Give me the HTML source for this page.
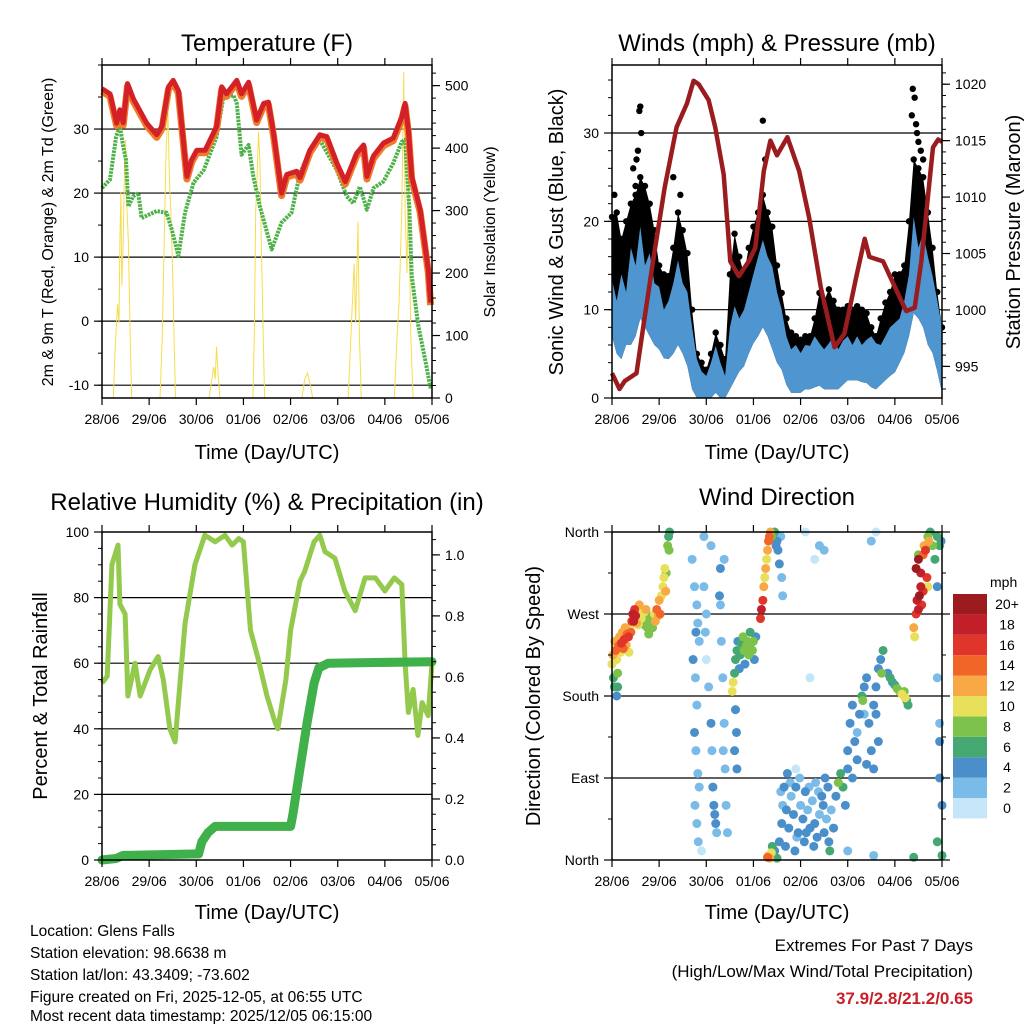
<!DOCTYPE html>
<html><head><meta charset="utf-8">
<style>
html,body{margin:0;padding:0;background:#fff;}
svg{display:block;font-family:"Liberation Sans",Arial,sans-serif;}
</style></head>
<body>
<svg id="chart" width="1024" height="1024" viewBox="0 0 1024 1024" xmlns="http://www.w3.org/2000/svg">
<rect x="0" y="0" width="1024" height="1024" fill="#fff"/>
<g id="layer"></g>
<g font-size="24" text-anchor="middle" fill="#000">
<text x="267" y="51">Temperature (F)</text>
<text x="777" y="51">Winds (mph) &amp; Pressure (mb)</text>
<text x="267" y="510">Relative Humidity (%) &amp; Precipitation (in)</text>
<text x="777" y="505">Wind Direction</text>
</g>
<g font-size="20" text-anchor="middle" fill="#000">
<text x="267" y="459">Time (Day/UTC)</text>
<text x="777" y="459">Time (Day/UTC)</text>
<text x="267" y="919">Time (Day/UTC)</text>
<text x="777" y="919">Time (Day/UTC)</text>
<text transform="translate(53,232) rotate(-90)" font-size="16">2m &amp; 9m T (Red, Orange) &amp; 2m Td (Green)</text>
<text transform="translate(495,232) rotate(-90)" font-size="16">Solar Insolation (Yellow)</text>
<text transform="translate(563,232) rotate(-90)">Sonic Wind &amp; Gust (Blue, Black)</text>
<text transform="translate(1020,232) rotate(-90)">Station Pressure (Maroon)</text>
<text transform="translate(47,696) rotate(-90)">Percent &amp; Total Rainfall</text>
<text transform="translate(540,696) rotate(-90)">Direction (Colored By Speed)</text>
</g>
<g font-size="15.5" fill="#000">
<text x="30" y="936">Location: Glens Falls</text>
<text x="30" y="958">Station elevation: 98.6638 m</text>
<text x="30" y="980">Station lat/lon: 43.3409; -73.602</text>
<text x="30" y="1002">Figure created on Fri, 2025-12-05, at 06:55 UTC</text>
<text x="30" y="1021">Most recent data timestamp: 2025/12/05 06:15:00</text>
</g>
<g font-size="17" fill="#000" text-anchor="end">
<text x="973" y="951">Extremes For Past 7 Days</text>
<text x="973" y="977">(High/Low/Max Wind/Total Precipitation)</text>
<text x="973" y="1004" font-weight="bold" fill="#c8202a">37.9/2.8/21.2/0.65</text>
</g>
</svg>
<script>
const dayLabels=["28/06","29/06","30/06","01/06","02/06","03/06","04/06","05/06"];
const tempTicks=[-10,0,10,20,30];
const solarTicks=[0,100,200,300,400,500];
const windTicks=[0,10,20,30];
const presTicks=[995,1000,1005,1010,1015,1020];
const rhTicks=[0,20,40,60,80,100];
const rainTicks=[0.0,0.2,0.4,0.6,0.8,1.0];
const dirTicks=[0,90,180,270,360];
const dirLabels=["North","East","South","West","North"];

const tempDays=[0,.17,.31,.38,.45,.54,.66,.95,1.16,1.27,1.41,1.51,1.62,1.73,1.8,1.9,2.01,2.19,2.43,2.54,2.64,2.86,2.96,3.11,3.28,3.43,3.53,3.64,3.81,3.92,4.13,4.2,4.41,4.62,4.77,4.98,5.16,5.4,5.55,5.62,5.76,5.97,6.18,6.36,6.43,6.5,6.57,6.75,6.92,6.97];
const tempVals=[36.3,35.5,30.9,33,31,37.1,34.8,30.9,29.1,30.4,36.6,37.6,36,27.8,22.6,25.2,26.7,26.7,30.4,36.6,35.5,37.6,35.5,37.3,31.4,34,34.2,29.3,20,22.9,23.4,22.4,26.7,29.1,28.8,24.7,21.8,26.2,27.5,22.6,25.8,27.8,28.6,31.9,34,29.8,22.6,17.4,8.1,2.9];
const dewDays=[0,.17,.3,.38,.45,.51,.56,.66,.77,.84,1.16,1.37,1.48,1.62,1.76,1.94,2.16,2.43,2.57,2.79,2.86,2.96,3.11,3.21,3.35,3.6,3.81,4.02,4.2,4.41,4.62,4.98,5.19,5.33,5.47,5.62,5.76,5.97,6.18,6.36,6.43,6.52,6.57,6.71,6.85,6.97];
const dewVals=[20.8,22.1,28.8,30.4,27.3,25.2,17.9,19.5,20,16.1,17.2,16.9,14.3,10.2,16.9,21.6,23.6,28.8,34.8,35.3,34,26,27.5,22.6,17.9,11.2,15.4,16.9,23.1,26.7,28.3,23.6,19.5,18.4,21,17.4,20.8,21.8,24.7,28,28.3,17.4,7.1,-0.7,-5.8,-10.5];
const solarDays=[0,.24,.28,.33,.36,.38,.40,.42,.45,.48,.50,.52,.56,.6,.63,1.23,1.28,1.32,1.36,1.4,1.43,1.46,1.5,1.52,1.56,2.27,2.33,2.37,2.4,2.43,2.46,2.5,3.2,3.23,3.26,3.28,3.32,3.35,3.38,3.42,3.45,4.24,4.3,4.36,4.42,4.47,5.22,5.27,5.31,5.35,5.38,5.43,5.46,5.5,6.2,6.26,6.3,6.36,6.4,6.43,6.47,6.5,6.55,6.6,7];
const solarVals=[0,0,80,150,120,250,330,180,250,380,413,320,250,90,0,0,100,250,400,458,350,300,200,120,0,0,30,50,30,82,40,0,0,100,300,330,426,380,250,100,0,0,30,40,20,0,0,80,150,215,120,282,100,0,0,100,150,300,522,300,200,350,100,0,0];

const presDays=[0,.16,.27,.52,.66,.87,1.12,1.37,1.59,1.73,1.84,2.05,2.19,2.37,2.51,2.69,2.9,3.04,3.22,3.36,3.5,3.72,3.97,4.18,4.43,4.72,4.93,5.18,5.36,5.46,5.75,5.96,6.24,6.42,6.56,6.81,6.92,7];
const presVals=[994.4,993,993.7,994.4,998.4,1004.3,1010.9,1016.2,1018.3,1020.3,1020,1018.6,1016.2,1012,1004.3,1003,1004.3,1005.5,1012.3,1015,1013.7,1015.3,1012.3,1008.2,1002,996.7,997.9,1002.9,1006.3,1004.7,1004.3,1002.4,999.9,1000.2,1004.3,1014.4,1015.1,1014.9];
const windDays=[0,.1,.2,.3,.4,.5,.6,.7,.8,.9,1,1.1,1.2,1.3,1.4,1.5,1.6,1.7,1.8,1.9,2,2.1,2.2,2.3,2.4,2.5,2.6,2.7,2.8,2.9,3,3.1,3.2,3.3,3.4,3.5,3.6,3.7,3.8,3.9,4,4.1,4.2,4.3,4.4,4.5,4.6,4.7,4.8,4.9,5,5.1,5.2,5.3,5.4,5.5,5.6,5.7,5.8,5.9,6,6.1,6.2,6.3,6.4,6.5,6.6,6.7,6.8,6.9,7];
const windHi=[13.4,11,14,12,17,15,19.4,15,16.4,13,12.6,10,11,13,15.6,13,12,8,4.4,3,2.5,4,5.9,4,2.5,8,10.4,9,10,12,14,16,17.9,16,14.9,12,10,7,5.5,6,5.1,6,5.9,7,6.2,5.5,6.2,7,5.5,6.5,7,6,7,6,6.6,7,6.2,6,7,8,8.5,9,11,14,20.5,17,18.6,16,13.8,11,8];
const windLo=[7,5,4.4,6,6,7,9,8,7,6,5.5,4.5,4.4,5,6,5,3.6,1,0,0,0,0,.6,0,0,1,2,3,3.6,5,6.2,7,8,7,5.5,4,3.2,1.5,.6,.6,.6,1,1,1.2,1.4,1,1,1,1,1.5,2,2,2,1.8,1.7,1.2,1,1.5,2,2.5,2.9,4,5.1,7,9.6,9,8,6,5.1,3,.6];
const gustHi=[20.5,21,18,20,22,23,25,24,22,19,15,14,13.8,17,21,19,16.4,10,5,4,3.2,5,7.4,6,4.4,14,18.6,16,14,17,19.4,21,23,21,19.4,15,11.9,9,7.4,7,6.6,7,7,9,11.9,11,12.3,11,10,10,10.4,10,10.4,10,9.6,8,7,9,10.8,12,14,14,15,20,27,26,25,21,17,12,8];
const gustOutDays=[.45,.55,.58,.6,.62,.5,.52,3.2,3.25,1.3,6.36,6.38,6.42,6.45,6.47,6.5,6.55,6.6,.05,1.45];
const gustOutVals=[26,28,32.5,33,30,24,27,31.4,27,25,32,35,34,31,30,29,28,27,23,23];

const rhDays=[0,.11,.21,.34,.38,.49,.55,.7,.81,1.02,1.19,1.3,1.44,1.55,1.66,1.76,1.97,2.18,2.4,2.61,2.76,2.9,3.0,3.15,3.3,3.5,3.67,3.73,3.9,4.0,4.2,4.3,4.5,4.62,4.73,4.94,5.15,5.37,5.58,5.8,6.0,6.2,6.36,6.43,6.5,6.6,6.7,6.79,6.92,7];
const rhVals=[54,56,90,96,78,75,50,60,50,58,62,55,40,36,55,72,90,99,97,99,96,98,97,70,62,50,42,40,55,70,85,88,97,99,94,92,82,76,86,86,82,86,84,60,45,52,38,48,44,60];
const rainDays=[0,.3,.45,2.05,2.12,2.25,2.4,4.0,4.05,4.2,4.35,4.5,4.6,4.8,7];
const rainVals=[0,.005,.015,.02,.06,.09,.11,.11,.15,.3,.45,.58,.63,.645,.65];

const dirDays=[0,.02,.03,.05,.06,.08,.1,.12,.14,.16,.18,.2,.22,.24,.26,.28,.3,.32,.35,.36,.38,.4,.42,.44,.46,.48,.5,.52,.54,.56,.58,.6,.62,.64,.66,.68,.7,.72,.75,.78,.8,.82,.84,.86,.9,.92,.95,.98,1,1.02,1.05,1.08,1.1,1.12,1.14,1.18,1.2,1.21,1.22,1.15,.1,.12,
1.7,1.75,1.8,1.78,1.82,1.85,1.72,1.77,1.8,1.75,1.78,1.82,1.85,1.76,1.8,1.83,1.9,1.95,2,1.98,2,2.05,2.1,2.12,2.14,2.16,2.18,2.2,2.22,2.1,1.95,2.3,2.28,2.3,2.32,2.35,2.38,2.36,2.4,2.42,2.45,2.38,
2.55,2.57,2.6,2.62,2.65,2.67,2.7,2.72,2.75,2.78,2.8,2.82,2.85,2.88,2.9,2.93,2.95,2.98,3,3.02,3.05,2.62,2.64,2.6,2.65,
3.15,3.17,3.2,3.22,3.24,3.26,3.28,3.3,3.32,3.34,3.36,3.38,3.42,3.45,3.5,3.52,3.55,3.6,3.62,3.48,3.58,3.3,3.32,3.35,3.38,3.4,3.42,3.45,3.5,
3.55,3.6,3.62,3.65,3.7,3.75,3.8,3.85,3.9,3.95,4,4.05,4.1,4.15,4.2,4.25,4.3,4.35,4.4,4.45,4.5,4.55,4.6,4.62,4.65,4.7,4.75,4.8,4.85,4.9,4.95,5,3.58,3.68,3.78,3.88,3.98,4.08,4.18,4.28,4.38,4.48,4.58,3.72,3.92,4.12,4.32,4.52,
5,5.05,5.1,5.15,5.2,5.25,5.3,5.32,5.35,5.4,5.45,5.5,5.55,5.6,5.65,5.7,5.72,5.75,5.1,5.2,5.4,5.55,5.35,5.6,5.65,
5.85,5.9,5.95,6,6.05,6.1,6.15,6.2,6.22,6.25,6.28,
6.4,6.42,6.45,6.47,6.5,6.52,6.55,6.57,6.6,6.45,6.5,6.55,6.6,6.62,6.65,6.68,6.7,6.72,6.75,6.7,6.8,6.85,6.9,6.95,6.98,6.5,6.9,
6.4,6.9,6.95,7,6.95,6.9,7,6.95,4.1,4.5,5.5,4.2,3.9,5,5.6,5.55,4.3,4.4];
const dirVals=[215,225,200,190,240,230,220,205,235,245,228,238,250,232,242,255,236,248,245,228,255,250,262,270,262,275,268,260,270,258,280,275,265,268,262,272,258,275,255,248,268,260,264,255,270,262,275,268,285,270,290,300,310,320,295,345,355,340,360,315,180,190,
330,300,280,250,260,240,220,200,170,140,120,95,80,60,40,20,10,300,270,250,220,190,150,120,80,60,50,40,30,345,355,320,290,280,240,200,150,120,100,60,30,330,
185,195,205,220,230,240,210,225,238,245,230,215,235,240,225,250,238,230,240,220,245,165,140,120,100,
265,275,285,300,310,320,330,340,350,355,360,355,358,360,350,340,325,310,290,345,355,3,5,2,8,15,4,10,2,
20,40,60,80,55,35,70,50,80,30,60,45,75,55,35,65,40,25,50,70,30,45,20,10,55,35,70,85,95,80,60,100,75,15,85,10,90,20,80,15,75,60,80,95,25,30,85,90,
120,150,170,130,110,160,180,175,190,200,150,120,170,190,210,220,205,230,90,140,105,100,160,160,130,
205,200,195,192,188,185,182,185,178,175,170,
255,245,270,285,275,290,300,280,295,320,330,315,335,345,340,310,355,350,360,300,345,330,355,345,350,335,300,
3,20,90,5,130,200,60,150,360,340,350,200,100,10,360,5,330,345];
const dirSpeeds=[9,11,6,5,12,13,10,7,14,12,9,15,11,13,16,12,11,13,15,10,9,14,15,17,18,16,17,11,10,9,12,10,9,8,7,10,6,11,7,7,8,7,6,7,10,12,13,12,12,13,10,9,10,9,11,7,6,7,6,8,4,5,
1,1,2,3,1,1,3,2,1,3,1,2,1,2,1,1,0,1,2,1,0,2,3,2,3,4,4,3,2,1,1,3,4,2,1,1,2,1,1,1,1,1,
9,10,6,6,5,4,4,5,6,7,8,4,7,8,7,5,7,8,7,4,4,4,4,4,3,
16,17,15,11,10,12,9,11,13,14,12,8,6,5,4,3,3,1,1,4,2,14,10,12,9,6,5,4,5,
3,4,2,3,4,3,2,4,3,4,2,3,4,2,3,2,3,4,2,3,4,2,3,6,2,3,4,7,6,5,4,3,2,4,2,3,2,3,2,3,2,4,3,3,2,3,2,4,
4,3,4,4,3,4,6,7,4,3,4,3,4,4,3,4,7,5,3,2,4,3,2,4,3,
4,5,4,6,7,8,10,7,9,6,5,
11,10,15,17,18,20,18,16,15,20,19,18,14,12,15,15,8,12,6,10,8,6,5,6,3,7,4,
6,6,4,5,3,2,3,1,0,1,1,0,0,1,0,1,0,1];

const speedColors=["#c5e6f8","#7bbbe8","#4a8fc9","#45a872","#7dc24a","#e8e05a","#f9a846","#f26529","#e0352b","#c1202a","#9b1b1e"];
const speedLabels=["0","2","4","6","8","10","12","14","16","18","20+"];

const NS="http://www.w3.org/2000/svg";
const layer=document.getElementById('layer');
function mk(tag,attrs,parent){const e=document.createElementNS(NS,tag);for(const k in attrs)e.setAttribute(k,attrs[k]);(parent||layer).appendChild(e);return e;}
function lin(d0,d1,r0,r1){return v=>r0+(v-d0)/(d1-d0)*(r1-r0);}

const P=[
 {x0:102,x1:432,y0:65,y1:398},
 {x0:612,x1:942,y0:65,y1:398},
 {x0:102,x1:432,y0:532,y1:860},
 {x0:612,x1:942,y0:532,y1:860}];
const X=P.map(p=>lin(0,7,p.x0,p.x1));
const yT=lin(-12,40,398,65), yS=lin(0,533,398,65);
const yW=lin(0,37.7,398,65), yP=lin(992.2,1021.7,398,65);
const yRH=lin(0,100,860,532), yRain=lin(0,1.075,860,532);
const yD=lin(0,360,860,532);

function pts(xs,ys,fx,fy){return xs.map((d,i)=>fx(d).toFixed(1)+","+fy(ys[i]).toFixed(1)).join(" ");}

function grid(pi,vals,fy,name){vals.forEach(v=>{const y=fy(v);if(y<=P[pi].y0+1||y>=P[pi].y1-1)return;
 const l=mk('line',{x1:P[pi].x0,x2:P[pi].x1,y1:y,y2:y,stroke:'#000','stroke-width':1.2});
 
 });}
grid(0,tempTicks,yT,'temp');grid(1,windTicks,yW,'wind');grid(2,rhTicks,yRH,'rh');grid(3,dirTicks,yD,'dir');

let g;
g=mk('polyline',{points:pts(solarDays,solarVals,X[0],yS),fill:'none',stroke:'#f7dc4f','stroke-width':1});


g=mk('polyline',{points:pts(dewDays,dewVals,X[0],yT),fill:'none',stroke:'#4cb147','stroke-width':4,'stroke-dasharray':'2.5 1','stroke-linejoin':'round'});


g=mk('polyline',{points:pts(tempDays,tempVals.map(v=>v-0.4),X[0],yT),fill:'none',stroke:'#f07a2a','stroke-width':7,'stroke-linejoin':'round'});


g=mk('polyline',{points:pts(tempDays,tempVals,X[0],yT),fill:'none',stroke:'#d42027','stroke-width':5,'stroke-linejoin':'round'});



g=mk('polygon',{points:pts(windDays,gustHi,X[1],yW)+" "+pts(windDays.slice().reverse(),windLo.slice().reverse(),X[1],yW),fill:'#000'});


windDays.forEach((d,i)=>{const c=mk('circle',{cx:X[1](d),cy:yW(gustHi[i]),r:3.2,fill:'#000'});
 
 });
gustOutDays.forEach((d,i)=>{const c=mk('circle',{cx:X[1](d),cy:yW(gustOutVals[i]),r:3.2,fill:'#000'});
 
 });
g=mk('polygon',{points:pts(windDays,windHi,X[1],yW)+" "+pts(windDays.slice().reverse(),windLo.slice().reverse(),X[1],yW),fill:'#4f96d1'});


g=mk('polyline',{points:pts(presDays,presVals,X[1],yP),fill:'none',stroke:'#9b1c1f','stroke-width':4.5,'stroke-linejoin':'round'});



g=mk('polyline',{points:pts(rhDays,rhVals,X[2],yRH),fill:'none',stroke:'#93c94d','stroke-width':5,'stroke-linejoin':'round'});


g=mk('polyline',{points:pts(rainDays,rainVals,X[2],yRain),fill:'none',stroke:'#40b04a','stroke-width':9,'stroke-linejoin':'round','stroke-linecap':'round'});



const order=dirDays.map((d,i)=>i).sort((a,b)=>dirSpeeds[a]-dirSpeeds[b]);
order.forEach(i=>{const ci=Math.min(10,Math.round(dirSpeeds[i]/2));
 const c=mk('circle',{cx:X[3](dirDays[i]),cy:yD(dirVals[i]),r:4.5,fill:speedColors[ci]});
 
 });

P.forEach((p,pi)=>{
 const r=mk('rect',{x:p.x0,y:p.y0,width:p.x1-p.x0,height:p.y1-p.y0,fill:'none',stroke:'#000','stroke-width':1.5});
 
 
 dayLabels.forEach((lab,i)=>{const x=X[pi](i);
  const t1=mk('line',{x1:x,x2:x,y1:p.y0,y2:p.y0-7,stroke:'#000','stroke-width':1.2});
  
  
  const t2=mk('line',{x1:x,x2:x,y1:p.y1,y2:p.y1+7,stroke:'#000','stroke-width':1.2});
  
  
  const tx=mk('text',{x:x,y:p.y1+26,'font-size':14,'text-anchor':'middle'});tx.textContent=lab;
  
  });
});
function yAxis(pi,side,vals,labels,fy,minorStep,minorFrom,minorTo,name){
 const p=P[pi];const x=side==='l'?p.x0:p.x1;const s=side==='l'?-1:1;
 for(let v=minorFrom;v<=minorTo+1e-9;v+=minorStep){const y=fy(v);if(y<p.y0-0.5||y>p.y1+0.5)continue;
  const m=mk('line',{x1:x,x2:x+s*4,y1:y,y2:y,stroke:'#000','stroke-width':1});
  
  }
 vals.forEach((v,i)=>{const y=fy(v);
  const t=mk('line',{x1:x,x2:x+s*8,y1:y,y2:y,stroke:'#000','stroke-width':1.2});
  
  
  const tx=mk('text',{x:x+s*13,y:y+5,'font-size':14,'text-anchor':side==='l'?'end':'start'});tx.textContent=labels[i];
  
  });
}
yAxis(0,'l',tempTicks,tempTicks.map(String),yT,5,-10,40,'temp-axis');
yAxis(0,'r',solarTicks,solarTicks.map(String),yS,20,0,520,'solar-axis');
yAxis(1,'l',windTicks,windTicks.map(String),yW,2,0,36,'wind-axis');
yAxis(1,'r',presTicks,presTicks.map(String),yP,1,993,1021,'pressure-axis');
yAxis(2,'l',rhTicks,rhTicks.map(String),yRH,5,0,100,'rh-axis');
yAxis(2,'r',rainTicks,rainTicks.map(v=>v.toFixed(1)),yRain,0.05,0,1.05,'rain-axis');
yAxis(3,'l',dirTicks,dirLabels,yD,45,0,360,'dir-axis');
yAxis(3,'r',dirTicks,["","","","",""],yD,45,0,360,'dir-axis-right');

const cb=mk('g',{});


const cbt=mk('text',{x:990,y:587,'font-size':14},cb);cbt.textContent='mph';


speedColors.forEach((c,i)=>{const k=10-i;const y=594+k*20.4;
 const r=mk('rect',{x:953,y:y,width:34,height:20.4,fill:c},cb);
 
 
 const t=mk('text',{x:1007,y:y+15,'font-size':14,'text-anchor':'middle'},cb);t.textContent=speedLabels[i];
 
 });
</script>
</body></html>
